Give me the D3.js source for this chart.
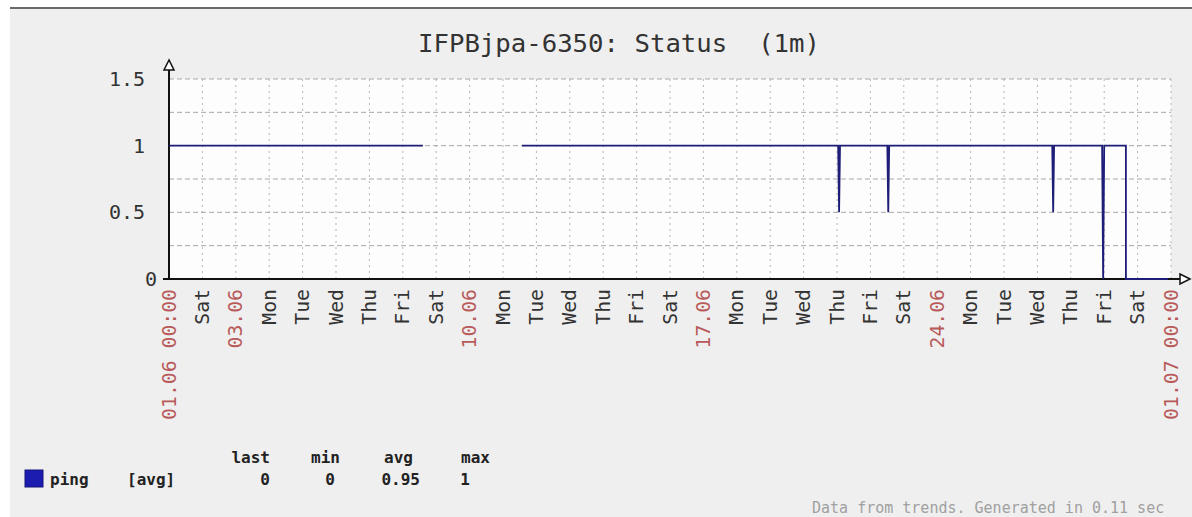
<!DOCTYPE html>
<html>
<head>
<meta charset="utf-8">
<script src="https://cdn.jsdelivr.net/npm/d3@7"></script>
<style>
  body { margin: 0; background: #ffffff; }
  text { font-family: "DejaVu Sans Mono", monospace; }
</style>
</head>
<body>
<div id="canvas"></div>
<script>
"use strict"

/* chart data */
let pingTimes = [
    "2018-06-01 00:00", "2018-06-08 14:25", "2018-06-08 15:00",
    "2018-06-11 13:40", "2018-06-21 00:50", "2018-06-21 01:30", "2018-06-21 02:10",
    "2018-06-22 12:10", "2018-06-22 12:50", "2018-06-22 13:30",
    "2018-06-27 10:40", "2018-06-27 11:20", "2018-06-27 12:00",
    "2018-06-28 22:30", "2018-06-28 23:15", "2018-06-29 00:00",
    "2018-06-29 15:35", "2018-06-29 15:36", "2018-06-30 21:50"
];
let pingValues = [
    1, 1, null,
    1, 1, 0.5, 1,
    1, 0.5, 1,
    1, 0.5, 1,
    1, 0, 1,
    1, 0, 0
];
let xTickLabels = [
    "01.06 00:00", "Sat", "03.06", "Mon", "Tue", "Wed", "Thu", "Fri", "Sat",
    "10.06", "Mon", "Tue", "Wed", "Thu", "Fri", "Sat",
    "17.06", "Mon", "Tue", "Wed", "Thu", "Fri", "Sat",
    "24.06", "Mon", "Tue", "Wed", "Thu", "Fri", "Sat",
    "01.07 00:00"
];
let redLabels = ["01.06 00:00", "03.06", "10.06", "17.06", "24.06", "01.07 00:00"];
let yTickValues = [0, 0.5, 1, 1.5];
let yTickLabels = ["0", "0.5", "1", "1.5"];
let yGridValues = [0.25, 0.5, 0.75, 1, 1.25, 1.5];
let legendHeaders = ["last", "min", "avg", "max"];
let legendValues = ["0", "0", "0.95", "1"];

let parseTime = d3.timeParse("%Y-%m-%d %H:%M");
let points = pingTimes.map((t, i) => ({ t: parseTime(t), v: pingValues[i] }));

/* svg canvas */
let drawing = d3.select("#canvas")
    .append("svg")
    .attr("width", 1192)
    .attr("height", 517);

/* panel background + top border */
let panel = drawing.append("rect")
    .attr("x", 10)
    .attr("y", 8)
    .attr("width", 1182)
    .attr("height", 509)
    .attr("fill", "#efefef");

let topBorder = drawing.append("line")
    .attr("x1", 10)
    .attr("x2", 1192)
    .attr("y1", 8)
    .attr("y2", 8)
    .attr("stroke", "#6a6a6a")
    .attr("stroke-width", 2);

/* scales */
let x = d3.scaleTime()
    .domain([parseTime("2018-06-01 00:00"), parseTime("2018-07-01 00:00")])
    .range([169, 1171]);

let y = d3.scaleLinear()
    .domain([0, 1.5])
    .range([279, 79]);

let dayTicks = x.ticks(d3.timeDay.every(1));

/* plot background */
let plotArea = drawing.append("rect")
    .attr("x", x.range()[0])
    .attr("y", y(1.5))
    .attr("width", x.range()[1] - x.range()[0])
    .attr("height", y(0) - y(1.5))
    .attr("fill", "#fdfdfd");

/* title */
let title = drawing.append("text")
    .attr("x", 619)
    .attr("y", 52)
    .attr("text-anchor", "middle")
    .attr("font-size", 25)
    .attr("fill", "#333")
    .attr("textLength", 402)
    .attr("lengthAdjust", "spacingAndGlyphs")
    .style("white-space", "pre")
    .text("IFPBjpa-6350: Status  (1m)");

/* grid */
let vGrid = drawing.append("g")
    .selectAll("line")
    .data(dayTicks.slice(1))
    .join("line")
    .attr("x1", d => x(d))
    .attr("x2", d => x(d))
    .attr("y1", y(1.5))
    .attr("y2", y(0))
    .attr("stroke", "#b4b4b4")
    .attr("stroke-dasharray", "2,4");

let hGrid = drawing.append("g")
    .selectAll("line")
    .data(yGridValues)
    .join("line")
    .attr("x1", x.range()[0])
    .attr("x2", x.range()[1])
    .attr("y1", d => y(d))
    .attr("y2", d => y(d))
    .attr("stroke", "#a8a8a8")
    .attr("stroke-dasharray", "5,3");

/* axes */
let yAxisLine = drawing.append("line")
    .attr("x1", 169)
    .attr("x2", 169)
    .attr("y1", y(0))
    .attr("y2", 70)
    .attr("stroke", "#111")
    .attr("stroke-width", 2);

let xAxisLine = drawing.append("line")
    .attr("x1", 163)
    .attr("x2", 1180)
    .attr("y1", y(0))
    .attr("y2", y(0))
    .attr("stroke", "#111")
    .attr("stroke-width", 2);

/* data line (drawn over the axis) */
let pingLine = d3.line()
    .defined(d => d.v !== null)
    .x(d => x(d.t))
    .y(d => y(d.v));

let pingPath = drawing.append("path")
    .datum(points)
    .attr("d", pingLine)
    .attr("fill", "none")
    .attr("stroke", "#1e1e78")
    .attr("stroke-width", 1.8);

/* axis arrows */
let yArrow = drawing.append("polygon")
    .attr("points", "169,60 164,70 174,70")
    .attr("fill", "#fff")
    .attr("stroke", "#111")
    .attr("stroke-width", 1.5);

let xArrow = drawing.append("polygon")
    .attr("points", "1190,279 1180,274 1180,284")
    .attr("fill", "#fff")
    .attr("stroke", "#111")
    .attr("stroke-width", 1.5);

/* y tick labels */
let yLabels = drawing.append("g")
    .selectAll("text")
    .data(yTickValues)
    .join("text")
    .attr("x", d => d === 0 ? 157 : 145)
    .attr("y", d => y(d))
    .attr("dy", "0.35em")
    .attr("text-anchor", "end")
    .attr("font-size", 20)
    .attr("fill", "#333")
    .text((d, i) => yTickLabels[i]);

/* x tick labels */
let xLabels = drawing.append("g")
    .selectAll("text")
    .data(dayTicks)
    .join("text")
    .attr("transform", d => "translate(" + x(d) + ",289) rotate(-90)")
    .attr("dy", "0.35em")
    .attr("text-anchor", "end")
    .attr("font-size", 19)
    .attr("textLength", (d, i) => xTickLabels[i].length * 11.9)
    .attr("lengthAdjust", "spacingAndGlyphs")
    .style("white-space", "pre")
    .attr("fill", (d, i) => redLabels.includes(xTickLabels[i]) ? "#b85a5a" : "#333")
    .text((d, i) => xTickLabels[i]);

/* legend */
let legendBox = drawing.append("rect")
    .attr("x", 25)
    .attr("y", 470)
    .attr("width", 18)
    .attr("height", 17)
    .attr("fill", "#1c1cb0")
    .attr("stroke", "#14147a");

let legendName = drawing.append("text")
    .attr("x", 50)
    .attr("y", 485)
    .attr("font-size", 16)
    .attr("font-weight", "bold")
    .attr("fill", "#222")
    .text("ping");

let legendFunc = drawing.append("text")
    .attr("x", 127)
    .attr("y", 485)
    .attr("font-size", 16)
    .attr("font-weight", "bold")
    .attr("fill", "#222")
    .text("[avg]");

let headerX = [270, 340, 413, 490];
let valueX = [270, 335, 420, 470];

let legendHead = drawing.append("g")
    .selectAll("text")
    .data(legendHeaders)
    .join("text")
    .attr("x", (d, i) => headerX[i])
    .attr("y", 463)
    .attr("text-anchor", "end")
    .attr("font-size", 16)
    .attr("font-weight", "bold")
    .attr("fill", "#222")
    .text(d => d);

let legendVals = drawing.append("g")
    .selectAll("text")
    .data(legendValues)
    .join("text")
    .attr("x", (d, i) => valueX[i])
    .attr("y", 485)
    .attr("text-anchor", "end")
    .attr("font-size", 16)
    .attr("font-weight", "bold")
    .attr("fill", "#222")
    .text(d => d);

/* footer */
let footer = drawing.append("text")
    .attr("x", 812)
    .attr("y", 513)
    .attr("font-size", 15)
    .attr("fill", "#a0a0a0")
    .text("Data from trends. Generated in 0.11 sec");
</script>
</body>
</html>
